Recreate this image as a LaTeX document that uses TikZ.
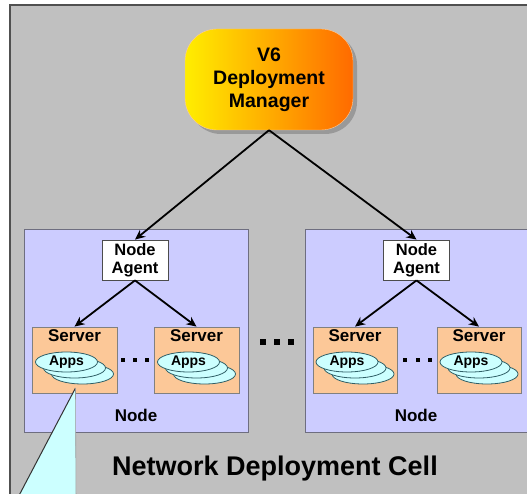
\documentclass[tikz,border=0pt]{standalone}
\usepackage{fontspec}
\setmainfont{Liberation Sans}
\usetikzlibrary{arrows.meta,shapes.geometric,shadows}
\definecolor{cellgray}{HTML}{C0C0C0}
\definecolor{cellline}{HTML}{505050}
\definecolor{nodeblue}{HTML}{CCCCFF}
\definecolor{panelline}{HTML}{6E6E80}
\definecolor{serverpeach}{HTML}{FCC898}
\definecolor{appcyan}{HTML}{CCFFFF}
\definecolor{appline}{HTML}{2F5F66}
\definecolor{mgryellow}{HTML}{FFEE00}
\definecolor{mgrorange}{HTML}{FF6A00}

\begin{document}
\begin{tikzpicture}[x=1pt,y=-1pt,
				every node/.style={font=\bfseries},
				panel/.style={draw=panelline,fill=nodeblue,line width=0.8pt,minimum height=203,inner sep=0},
				agent/.style={draw=black!70,fill=white,line width=0.8pt,minimum width=66,minimum height=40,
					inner sep=0,align=center,font=\bfseries\fontsize{16.5}{18}\selectfont},
				server/.style={draw=black!50,fill=serverpeach,line width=0.8pt,minimum width=85,minimum height=66,inner sep=0},
				app/.style={ellipse,draw=appline,fill=appcyan,line width=0.8pt,minimum width=62,minimum height=20,
					inner sep=0,font=\bfseries\fontsize{14}{15}\selectfont},
				lbl/.style={font=\bfseries\fontsize{17}{18}\selectfont,inner sep=0},
				arr/.style={line width=1.8pt,-{Stealth[length=10pt,width=9pt]}}]
				\useasboundingbox (0,0) rectangle (527,494);
				\clip (0,0) rectangle (527,494);
				% cell
				\draw[fill=cellgray,draw=cellline,line width=2pt] (10,5) rectangle (545,515);
				% manager
				\node[draw=orange!40,left color=mgryellow,right color=mgrorange,rounded corners=32pt,
					minimum width=168,minimum height=101,align=center,
					drop shadow={shadow xshift=4pt,shadow yshift=-4pt,fill=black!40,opacity=1},
					font=\bfseries\fontsize{19.5}{23}\selectfont] (mgr) at (269,79.5) {V6\\Deployment\\Manager};
				% nodes
				\node[panel,minimum width=224] (nl) at (136,330.5) {};
				\node[panel,minimum width=240] (nr) at (425,330.5) {};
				\node[lbl] (nll) at (136,415) {Node};
				\node[lbl] (nrl) at (416,415) {Node};
				\node[agent] (agl) at (135,260) {Node\\Agent};
				\node[agent] (agr) at (416.5,260) {Node\\Agent};
				% servers
				\node[server] (s1) at (74.5,360) {};
				\node[server] (s2) at (196.5,360) {};
				\node[server,minimum width=84] (s3) at (355,360) {};
				\node[server,minimum width=84] (s4) at (479,360) {};
				\node[lbl] (s1l) at (74.5,336) {Server};
				\node[lbl] (s2l) at (196.5,336) {Server};
				\node[lbl] (s3l) at (355,336) {Server};
				\node[lbl] (s4l) at (479,336) {Server};
				% apps
				\node[app] (a1c) at (82.5,374) {};
				\node[app] (a1b) at (74.5,368) {};
				\node[app] (a1) at (66.5,362) {Apps};
				\node[app] (a2c) at (204.5,374) {};
				\node[app] (a2b) at (196.5,368) {};
				\node[app] (a2) at (188.5,362) {Apps};
				\node[app] (a3c) at (363,374) {};
				\node[app] (a3b) at (355,368) {};
				\node[app] (a3) at (347,362) {Apps};
				\node[app] (a4c) at (487,374) {};
				\node[app] (a4b) at (479,368) {};
				\node[app] (a4) at (471,362) {Apps};
				% dots
				\foreach \x in {123,135,147,405,418,430}
					\fill (\x-1.8,358.2) rectangle (\x+1.8,361.8);
				\foreach \x in {263,277,291}
					\fill (\x-3,339) rectangle (\x+3,345);
				% arrows
				\draw[arr] (mgr.south) -- (agl.north);
				\draw[arr] (mgr.south) -- (agr.north);
				\draw[arr] (agl.south) -- (s1.north);
				\draw[arr] (agl.south) -- (s2.north);
				\draw[arr] (agr.south) -- (s3.north);
				\draw[arr] (agr.south) -- (s4.north);
				% callout
				\coordinate (co) at (75.5,388);
				\coordinate (col) at (14,505);
				\coordinate (cor) at (76,505);
				\fill[appcyan] (co) -- (col) -- (cor) -- cycle;
				\draw[black!80,line width=1pt] (co) -- (col);
				\draw[black!40,line width=0.6pt] (co) -- (cor);
				\node[font=\bfseries\fontsize{27}{30}\selectfont] (cell) at (275,469) {Network Deployment Cell};
			\end{tikzpicture}
\end{document}
